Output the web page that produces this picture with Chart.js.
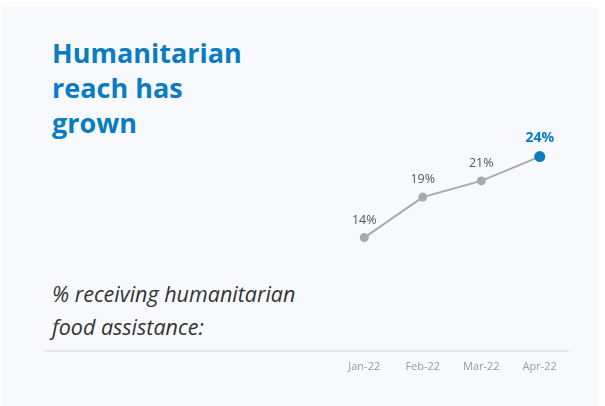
<!DOCTYPE html>
<html>
<head>
<meta charset="utf-8">
<script src="https://cdn.jsdelivr.net/npm/chart.js@4"></script>
<style>
  html, body { margin: 0; padding: 0; background: #ffffff; }
  #wrap { position: relative; width: 605px; height: 406px; overflow: hidden; }
  #panel { position: absolute; left: 1px; top: 7px; width: 597px; height: 399px; background: #f7f9fd; }
  #title { position: absolute; left: 52px; top: 35px; margin: 0; font-family: 'Open Sans', sans-serif;
           font-weight: 700; font-size: 27px; line-height: 35px; color: #0a7cc1; }
  #sub { position: absolute; left: 52px; top: 277px; margin: 0; font-family: 'Open Sans', sans-serif;
         font-style: italic; font-size: 21.5px; line-height: 33px; color: #333333; }
  #rule { position: absolute; left: 44px; top: 350px; width: 525px; height: 2px; background: #e5e7ec; }
  #myChart { position: absolute; left: 0; top: 0; }
</style>
</head>
<body>
<div id="wrap">
  <div id="panel"></div>
  <div id="title">Humanitarian<br>reach has<br>grown</div>
  <div id="sub">% receiving humanitarian<br>food assistance:</div>
  <div id="rule"></div>
  <canvas id="myChart" width="605" height="406"></canvas>
</div>
<script>
var labels = ['Jan-22', 'Feb-22', 'Mar-22', 'Apr-22']
var values = [14, 19, 21, 24]
var gray = '#a9a9a9'
var blue = '#0a7cc1'

// writes the % value above each point
var valueLabels = {
    id: 'valueLabels',
    afterDatasetsDraw: function(chart){
        var ctx = chart.ctx
        var meta = chart.getDatasetMeta(0)
        ctx.save()
        ctx.textAlign = 'center'
        ctx.textBaseline = 'bottom'
        meta.data.forEach(function(pt, i){
            var last = i === values.length - 1
            ctx.font = (last ? '700 14px' : '400 12.5px') + " 'Open Sans', sans-serif"
            ctx.fillStyle = last ? blue : '#555555'
            ctx.fillText(values[i] + '%', pt.x, pt.y - (last ? 12 : 11))
        })
        ctx.restore()
    }
}

var ctx = document.getElementById('myChart').getContext('2d')
var myChart = new Chart(ctx, {
    type: 'line',
    data: {
        labels: labels,
        datasets: [{
            data: values,
            borderColor: gray,
            borderWidth: 2,
            pointBackgroundColor: [gray, gray, gray, blue],
            pointBorderColor: [gray, gray, gray, blue],
            pointRadius: [4.5, 4.5, 4.5, 5.5],
            pointBorderWidth: 0,
            tension: 0,
            clip: false
        }]
    },
    options: {
        responsive: false,
        animation: false,
        events: [],
        layout: { padding: { left: 335, right: 36, top: 108, bottom: 27 } },
        plugins: { legend: { display: false }, tooltip: { enabled: false } },
        scales: {
            x: {
                offset: true,
                grid: { display: false, drawTicks: false },
                border: { display: false },
                ticks: { color: '#9a9a9a', padding: 9, font: { family: "'Open Sans', sans-serif", size: 11 } },
                afterFit: function(s){ s.height = 28 }
            },
            y: {
                display: false,
                min: 0,
                max: 30
            }
        }
    },
    plugins: [valueLabels]
});
</script>
</body>
</html>
